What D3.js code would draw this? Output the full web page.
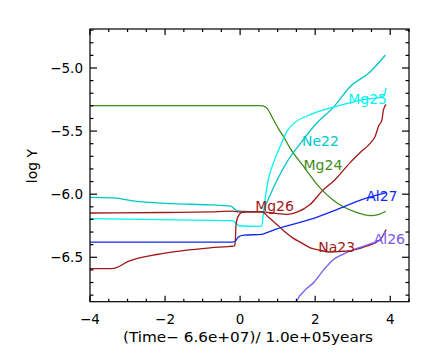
<!DOCTYPE html>
<html>
<head>
<meta charset="utf-8">
<script src="https://cdn.jsdelivr.net/npm/d3@7"></script>
<style>
  html, body { margin: 0; padding: 0; background: #fff; }
  svg { display: block; font-family: "DejaVu Sans", sans-serif; }
</style>
</head>
<body>
<svg id="chart" width="436" height="359"></svg>
<script>
// ---------- data (x = (Time-6.6e7)/1e5 yr, y = log Y) ----------
const xMajorTicks = [-4, -2, 0, 2, 4];
const yMajorTicks = [-6.5, -6.0, -5.5, -5.0];
const xTitle = "(Time\u2212 6.6e+07)/ 1.0e+05years";
const yTitle = "log Y";

const mg24 = [[-4,-5.298],[0.5,-5.298],[0.6,-5.300],[0.72,-5.32],[0.89,-5.41],[1.02,-5.48],[1.15,-5.54],[1.33,-5.635],[1.69,-5.78],[2.13,-5.95],[2.45,-6.04],[2.75,-6.10],[3.1,-6.145],[3.47,-6.17],[3.7,-6.16],[3.88,-6.135]];
const ne22 = [[-4,-6.025],[-3.38,-6.03],[-2.75,-6.057],[-1.78,-6.075],[-0.8,-6.085],[-0.25,-6.095],[-0.12,-6.125],[0,-6.135],[0.55,-6.14],[0.6,-6.14],[0.66,-6.10],[1.0,-5.88],[1.3,-5.72],[1.55,-5.62],[2.0,-5.45],[2.49,-5.31],[2.93,-5.148],[3.47,-5.03],[3.87,-4.897]];
const mg25 = [[-4,-6.194],[-0.8,-6.207],[-0.2,-6.21],[-0.1,-6.235],[-0.02,-6.25],[0.5,-6.255],[0.58,-6.252],[0.62,-6.15],[0.67,-6.03],[0.75,-5.885],[0.89,-5.75],[1.07,-5.62],[1.25,-5.50],[1.45,-5.435],[1.87,-5.37],[2.49,-5.31],[3.29,-5.25],[3.75,-5.23],[3.83,-5.22],[3.89,-5.16]];
const mg26 = [[-4,-6.149],[-2,-6.145],[-0.8,-6.14],[-0.2,-6.135],[0,-6.14],[0.6,-6.14],[0.9,-6.15],[1.24,-6.16],[1.5,-6.145],[1.87,-6.08],[2.2,-5.97],[2.53,-5.885],[2.93,-5.75],[3.2,-5.67],[3.47,-5.595],[3.6,-5.54],[3.69,-5.46],[3.78,-5.41],[3.82,-5.33],[3.89,-5.29]];
const na23 = [[-4,-6.59],[-3.42,-6.59],[-2.93,-6.526],[-2.22,-6.478],[-1.51,-6.447],[-0.8,-6.425],[-0.15,-6.41],[-0.13,-6.38],[-0.11,-6.25],[-0.06,-6.18],[0.05,-6.145],[0.2,-6.14],[0.58,-6.14],[0.75,-6.18],[1.07,-6.265],[1.2,-6.30],[1.42,-6.35],[1.6,-6.38],[1.87,-6.425],[2.13,-6.445],[2.4,-6.458],[2.84,-6.452],[3.38,-6.41],[3.73,-6.36],[3.89,-6.28]];
const al27 = [[-4,-6.38],[-0.2,-6.38],[-0.12,-6.37],[-0.05,-6.34],[0.1,-6.325],[0.58,-6.318],[0.75,-6.30],[0.98,-6.275],[1.2,-6.255],[1.87,-6.20],[2.76,-6.10],[3.38,-6.03],[3.88,-5.99]];
const al26 = [[1.45,-6.90],[1.51,-6.847],[1.7,-6.77],[1.96,-6.70],[2.2,-6.61],[2.49,-6.518],[2.75,-6.475],[3.02,-6.44],[3.47,-6.394],[3.73,-6.36],[3.87,-6.294]];

const seriesNames = ["Mg24","Ne22","Mg25","Mg26","Na23","Al27","Al26"];
const seriesData  = [mg24, ne22, mg25, mg26, na23, al27, al26];
const seriesColors = ["#3f8c1c","#00c8c8","#00f4f4","#a01818","#a01818","#1028f5","#7658ee"];
// label anchor in data units (left x, baseline y)
const labelX = [1.69, 1.65, 2.88, 0.40, 2.08, 3.36, 3.56];
const labelY = [-5.81, -5.615, -5.285, -6.135, -6.46, -6.055, -6.395];

// ---------- layout ----------
const L = 90, R = 409, T = 29, B = 301.7;
const svg = d3.select("#chart");
const x = d3.scaleLinear().domain([-4, 4.5]).range([L, R]);
const y = d3.scaleLinear().domain([-6.852, -4.691]).range([B, T]);
const fmtMinus = s => s.replace("-", "\u2212");

// clip
svg.append("defs").append("clipPath").attr("id","clip")
  .append("rect").attr("x", L).attr("y", T).attr("width", R - L).attr("height", B - T);

// lines
const line = d3.line().x(d => x(d[0])).y(d => y(d[1])).curve(d3.curveMonotoneX);
const g = svg.append("g").attr("clip-path","url(#clip)");
seriesData.forEach((d, i) => {
  g.append("path").datum(d).attr("d", line)
    .attr("fill","none").attr("stroke", seriesColors[i]).attr("stroke-width", 1.3);
});

// labels
seriesNames.forEach((n, i) => {
  svg.append("text").attr("x", x(labelX[i])).attr("y", y(labelY[i]))
    .attr("fill", seriesColors[i]).attr("font-size", 14).text(n);
});

// axes frame
const axisColor = "#000";
svg.append("rect").attr("x", L).attr("y", T).attr("width", R - L).attr("height", B - T)
  .attr("fill","none").attr("stroke", axisColor).attr("stroke-width", 1.2);

const xMinor = d3.range(-4, 4.51, 0.5);
const yMinor = d3.range(-6.8, -4.69, 0.1).map(v => Math.round(v*10)/10);
const isMajorX = v => xMajorTicks.some(m => Math.abs(m - v) < 1e-6);
const isMajorY = v => yMajorTicks.some(m => Math.abs(m - v) < 1e-6);

// bottom axis positions via d3.axis (ticks drawn manually inward)
const xAxisB = d3.axisBottom(x).tickValues(xMinor).tickSize(0).tickFormat(() => "");
svg.append("g").attr("transform", `translate(0,${B})`).call(xAxisB).call(s => s.select(".domain").remove());
const tickG = svg.append("g").attr("stroke", axisColor).attr("stroke-width", 1.2);
xMinor.forEach(v => {
  const len = isMajorX(v) ? 6 : 3;
  tickG.append("line").attr("x1", x(v)).attr("x2", x(v)).attr("y1", B).attr("y2", B - len);
  tickG.append("line").attr("x1", x(v)).attr("x2", x(v)).attr("y1", T).attr("y2", T + len);
});
yMinor.forEach(v => {
  const len = isMajorY(v) ? 7 : 3.5;
  tickG.append("line").attr("x1", L).attr("x2", L + len).attr("y1", y(v)).attr("y2", y(v));
  tickG.append("line").attr("x1", R).attr("x2", R - len).attr("y1", y(v)).attr("y2", y(v));
});

// tick labels
xMajorTicks.forEach(v => {
  svg.append("text").attr("x", x(v)).attr("y", 324).attr("text-anchor","middle")
    .attr("font-size", 13.5).attr("fill", "#000").text(fmtMinus(d3.format("d")(v)));
});
yMajorTicks.forEach(v => {
  svg.append("text").attr("x", 83).attr("y", y(v) + 5).attr("text-anchor","end")
    .attr("font-size", 13.5).attr("fill", "#000").text(fmtMinus(d3.format(".1f")(v)));
});

// axis titles
svg.append("text").attr("x", 123).attr("y", 342).attr("font-size", 14)
  .attr("textLength", 250).attr("lengthAdjust", "spacingAndGlyphs").attr("fill","#000").text(xTitle);
svg.append("text").attr("transform", "translate(37,166) rotate(-90)").attr("text-anchor","middle")
  .attr("font-size", 14).attr("fill","#000").text(yTitle);
</script>
</body>
</html>
